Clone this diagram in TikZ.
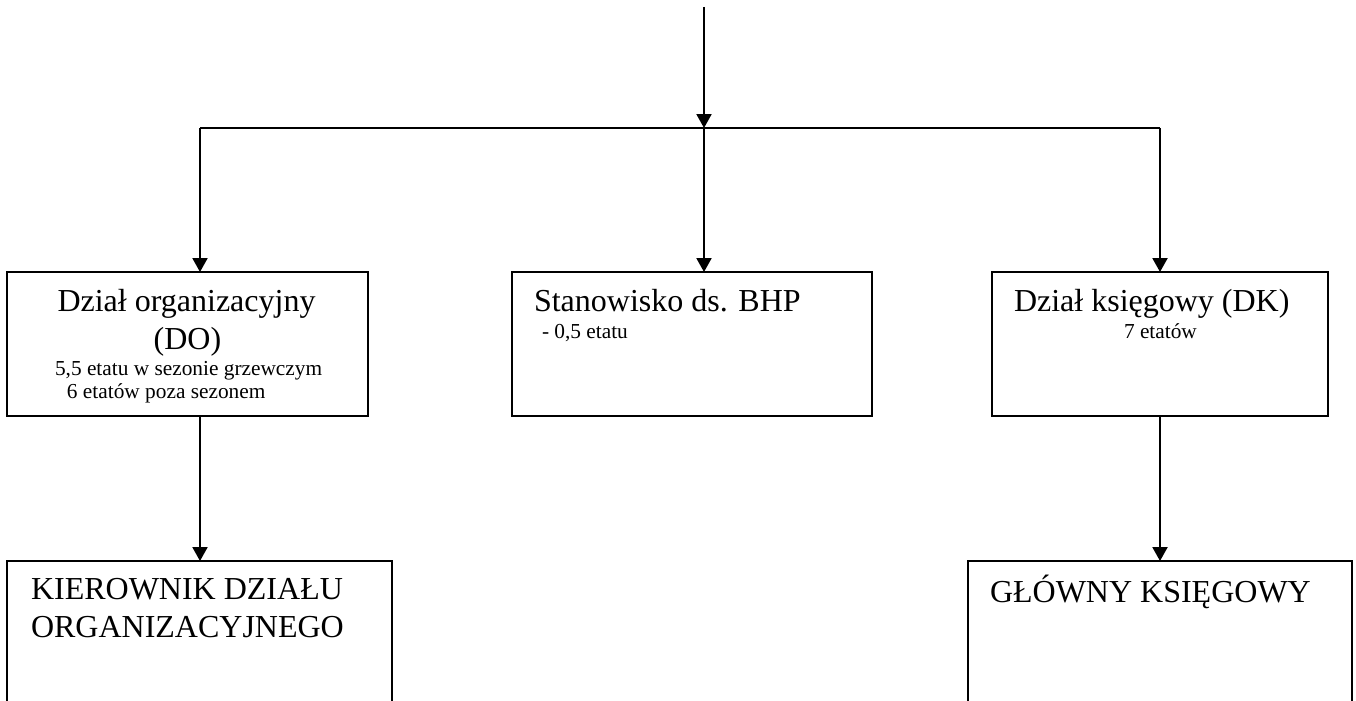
\documentclass[tikz,border=0pt]{standalone}
\usepackage{fontspec}
\setmainfont{Liberation Serif}
\usetikzlibrary{arrows.meta}

\tikzset{
  box/.style={draw, line width=0.75pt, inner sep=0pt, outer sep=0pt, minimum height=54pt},
  big/.style={inner sep=0pt, font=\fontsize{12}{14}\selectfont},
  small/.style={inner sep=0pt, font=\fontsize{8}{9.5}\selectfont},
}

\begin{document}
\begin{tikzpicture}[>={Triangle[width=5.6pt,length=5.2pt]}, x=0.375pt, y=-0.375pt, line width=0.75pt]
\useasboundingbox (0,0) rectangle (1356,701);
\clip (0,0) rectangle (1356,701);
% boxes
\node[box, minimum width=135.4pt] at (187.5,344) (DO) {};
\node[box, minimum width=135pt]   at (692,344)   (BHP) {};
\node[box, minimum width=126pt]   at (1160,344)  (DK) {};
\node[box, minimum width=144.4pt, minimum height=72pt] at (199.5,657) (KDO) {};
\node[box, minimum width=144pt,   minimum height=72pt] at (1160,657)  (GK) {};
% texts
\node[big, anchor=base] at (186.5,312) (DOname) {Dział organizacyjny};
\node[big, anchor=base] at (187.5,350) (DOshort) {(DO)};
\node[small, anchor=base west] at (54,376) (DOetat1) {5,5 etatu w sezonie grzewczym};
\node[small, anchor=base west] at (66,399) (DOetat2) {6 etatów poza sezonem};
\node[big, anchor=base west] at (533,312) (BHPname) {Stanowisko ds. BHP};
\node[small, anchor=base west] at (541,339) (BHPetat) {- 0,5 etatu};
\node[big, anchor=base west] at (1013,312) (DKname) {Dział księgowy (DK)};
\node[small, anchor=base west] at (1123,339) (DKetat) {7 etatów};
\node[big, anchor=base west] at (30,600) (KDOname1) {KIEROWNIK DZIAŁU};
\node[big, anchor=base west] at (30,637) (KDOname2) {ORGANIZACYJNEGO};
\node[big, anchor=base west] at (989,602) (GKname) {GŁÓWNY KSIĘGOWY};
% connectors
\coordinate (top) at (704,7);
\coordinate (split) at (704,128);
\coordinate (lcorner) at (200,128);
\coordinate (rcorner) at (1160,128);
\draw[->] (top) -- (split);
\draw (lcorner) -- (rcorner);
\draw[->] (lcorner) -- (lcorner |- DO.north);
\draw[->] (split) -- (split |- BHP.north);
\draw[->] (rcorner) -- (DK.north);
\draw[->] (lcorner |- DO.south) -- (lcorner |- KDO.north);
\draw[->] (DK.south) -- (GK.north);
\end{tikzpicture}
\end{document}
